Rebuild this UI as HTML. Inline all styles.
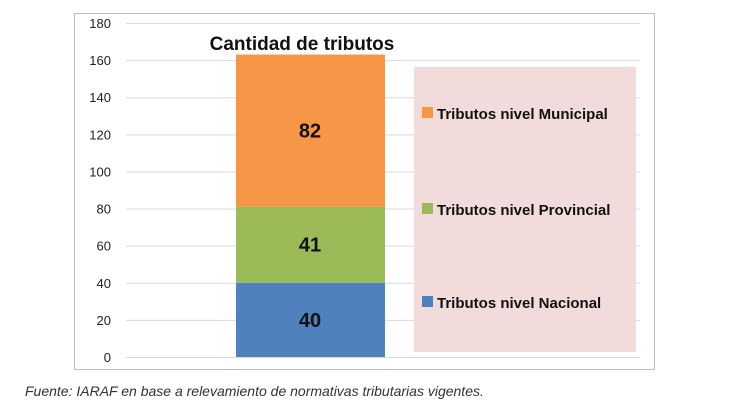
<!DOCTYPE html>
<html><head><meta charset="utf-8"><style>
body{margin:0;background:#fff;width:730px;height:410px;overflow:hidden;font-family:"Liberation Sans",sans-serif}
</style></head><body>
<svg id="chart" width="730" height="410" xmlns="http://www.w3.org/2000/svg">
<rect x="74.5" y="13.5" width="580" height="356" fill="#fff" stroke="#bfbfbf"/>
<g id="grid"></g><g id="bars"></g>
<text x="302" y="50" text-anchor="middle" font-size="19" font-weight="bold" fill="#111">Cantidad de tributos</text>
<rect x="414" y="67" width="222" height="285" fill="#f2dcdb"/>
<g id="legend"></g>
<text x="25" y="396" font-size="14" font-style="italic" fill="#333">Fuente: IARAF en base a relevamiento de normativas tributarias vigentes.</text>
</svg>
<script>
const ticks=[0,20,40,60,80,100,120,140,160,180];
const seriesNames=["Tributos nivel Nacional","Tributos nivel Provincial","Tributos nivel Municipal"];
const seriesValues=[40,41,82];
const colors=["#4f81bd","#9bbb59","#f79646"];
const NS="http://www.w3.org/2000/svg";
const y0=357,y1=23,maxV=180;
const y=v=>y0-(v/maxV)*(y0-y1);
const grid=document.getElementById('grid');
ticks.forEach(t=>{
 const l=document.createElementNS(NS,'line');
 
 
 l.setAttribute('x1',126);l.setAttribute('x2',640);
 l.setAttribute('y1',y(t)+0.5);l.setAttribute('y2',y(t)+0.5);
 l.setAttribute('stroke','#d9d9d9');grid.appendChild(l);
 const tx=document.createElementNS(NS,'text');
 
 
 tx.setAttribute('x',111);tx.setAttribute('y',y(t)+5);
 tx.setAttribute('text-anchor','end');tx.setAttribute('font-size','13');tx.setAttribute('fill','#222');
 tx.textContent=t;grid.appendChild(tx);
});
const bars=document.getElementById('bars');
let acc=0;
seriesValues.forEach((v,i)=>{
 const r=document.createElementNS(NS,'rect');
 
 
 r.setAttribute('x',236);r.setAttribute('width',149);
 r.setAttribute('y',y(acc+v));r.setAttribute('height',y(acc)-y(acc+v));
 r.setAttribute('fill',colors[i]);bars.appendChild(r);
 const tx=document.createElementNS(NS,'text');
 
 
 tx.setAttribute('x',310);tx.setAttribute('y',(y(acc)+y(acc+v))/2+7);
 tx.setAttribute('text-anchor','middle');tx.setAttribute('font-size','20');tx.setAttribute('font-weight','bold');tx.setAttribute('fill','#111');
 tx.textContent=v;bars.appendChild(tx);
 acc+=v;
});
const legend=document.getElementById('legend');
const ly=[303,210,114];
seriesNames.forEach((n,i)=>{
 const r=document.createElementNS(NS,'rect');
 
 
 r.setAttribute('x',422);r.setAttribute('y',ly[i]-7);r.setAttribute('width',11);r.setAttribute('height',11);
 r.setAttribute('fill',colors[i]);legend.appendChild(r);
 const tx=document.createElementNS(NS,'text');
 
 
 tx.setAttribute('x',437);tx.setAttribute('y',ly[i]+5);
 tx.setAttribute('font-size','15');tx.setAttribute('font-weight','bold');tx.setAttribute('fill','#111');
 tx.textContent=n;legend.appendChild(tx);
});
</script>
</body></html>
